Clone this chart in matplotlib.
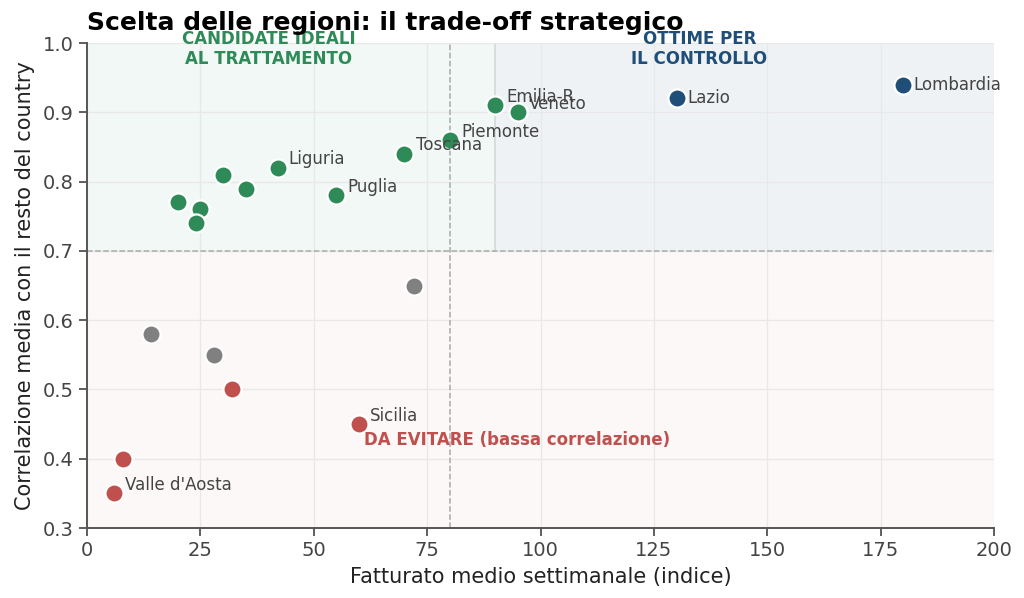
import matplotlib
matplotlib.use("Agg")
import matplotlib.pyplot as plt

# Data
green_x = [20, 25, 24, 30, 35, 42, 55, 70, 80, 90, 95]
green_y = [0.77, 0.76, 0.74, 0.81, 0.79, 0.82, 0.78, 0.84, 0.86, 0.91, 0.90]
green_lab = ["", "", "", "", "", "Liguria", "Puglia", "Toscana", "Piemonte", "Emilia-R", "Veneto"]

blue_x = [130, 180]
blue_y = [0.92, 0.94]
blue_lab = ["Lazio", "Lombardia"]

grey_x = [14, 28, 72]
grey_y = [0.58, 0.55, 0.65]

red_x = [32, 60, 8, 6]
red_y = [0.50, 0.45, 0.40, 0.35]
red_lab = ["", "Sicilia", "", "Valle d'Aosta"]

GREEN = "#2e8b57"
BLUE = "#1f4e79"
RED = "#c0504d"
GREY = "#808080"

fig = plt.figure(figsize=(10.24, 5.98), dpi=100)
ax = fig.add_axes([0.085, 0.117, 0.8857, 0.811])

ax.set_xlim(0, 200)
ax.set_ylim(0.3, 1.0)

# background zones
ax.fill_between([0, 90], 0.7, 1.0, color=GREEN, alpha=0.06, lw=0, zorder=0)
ax.fill_between([90, 200], 0.7, 1.0, color=BLUE, alpha=0.07, lw=0, zorder=0)
ax.fill_between([0, 200], 0.3, 0.7, color=RED, alpha=0.04, lw=0, zorder=0)
ax.axvline(90, ymin=(0.7-0.3)/0.7, ymax=1, color="#cfdcd6", lw=1.2, zorder=0.5)

ax.grid(True, color="#e8e8e8", lw=0.9, zorder=0.6)
ax.set_axisbelow(True)

ax.axvline(80, color="#aaaaaa", ls="--", lw=1.1, zorder=1)
ax.axhline(0.7, color="#aaaaaa", ls="--", lw=1.1, zorder=1)

kw = dict(s=170, edgecolors="white", linewidths=1.6, zorder=3)
ax.scatter(green_x, green_y, color=GREEN, **kw)
ax.scatter(blue_x, blue_y, color=BLUE, **kw)
ax.scatter(grey_x, grey_y, color=GREY, **kw)
ax.scatter(red_x, red_y, color=RED, **kw)

def label(xs, ys, labs, dx=8, dy=2.5, va="baseline"):
    for x, y, l in zip(xs, ys, labs):
        if l:
            ax.annotate(l, (x, y), xytext=(dx, dy), textcoords="offset points",
                        fontsize=12, color="#444444", va=va, zorder=4)

label(green_x, green_y, green_lab)
label(blue_x, blue_y, blue_lab, dx=7.5, dy=0, va="center")
label(red_x, red_y, red_lab)

ax.text(40, 0.991, "CANDIDATE IDEALI\nAL TRATTAMENTO", ha="center", va="center",
        fontsize=12, fontweight="bold", color=GREEN, linespacing=1.15, zorder=5)
ax.text(135, 0.991, "OTTIME PER\nIL CONTROLLO", ha="center", va="center",
        fontsize=12, fontweight="bold", color=BLUE, linespacing=1.15, zorder=5)
ax.text(61, 0.427, "DA EVITARE (bassa correlazione)", ha="left", va="center",
        fontsize=12, fontweight="bold", color=RED, zorder=5)

for s in ["top", "right"]:
    ax.spines[s].set_visible(False)
for s in ["left", "bottom"]:
    ax.spines[s].set_color("#555555")
    ax.spines[s].set_linewidth(1.4)

ax.set_xticks([0, 25, 50, 75, 100, 125, 150, 175, 200])
ax.set_yticks([0.3, 0.4, 0.5, 0.6, 0.7, 0.8, 0.9, 1.0])
ax.tick_params(labelsize=14, colors="#444444", length=6, width=1.2)
for t in ax.get_xticklabels() + ax.get_yticklabels():
    t.set_color("#444444")

ax.set_xlabel("Fatturato medio settimanale (indice)", fontsize=15, color="#222222", labelpad=5)
ax.set_ylabel("Correlazione media con il resto del country", fontsize=15, color="#222222", labelpad=6)

fig.text(0.085, 0.962, "Scelta delle regioni: il trade-off strategico", fontsize=18,
         fontweight="bold", ha="left", va="center")

fig.savefig("out.png", dpi=100)
